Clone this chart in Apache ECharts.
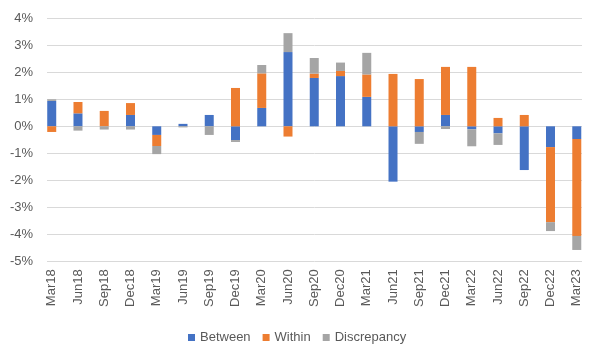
<!DOCTYPE html>
<html>
<head>
<meta charset="utf-8">
<script src="https://cdn.jsdelivr.net/npm/echarts@6/dist/echarts.min.js"></script>
<style>html,body{margin:0;padding:0;background:#fff}#c{width:599px;height:360px}</style>
</head>
<body>
<div id="c"></div>
<script>
var categories = ['Mar18','Jun18','Sep18','Dec18','Mar19','Jun19','Sep19','Dec19','Mar20','Jun20','Sep20','Dec20','Mar21','Jun21','Sep21','Dec21','Mar22','Jun22','Sep22','Dec22','Mar23'];
var between     = [0.94, 0.48, 0,    0.42, -0.32, 0.09, 0.42, -0.51, 0.68, 2.75, 1.79, 1.86, 1.09, -2.05, -0.21, 0.42, -0.11, -0.26, -1.62, -0.77, -0.47];
var within      = [-0.21, 0.42, 0.57, 0.44, -0.41, 0,   0,    1.42,  1.28, -0.38, 0.16, 0.19, 0.83, 1.94, 1.75, 1.78, 2.20, 0.31, 0.42, -2.78, -3.59];
var discrepancy = [0.06, -0.16, -0.12, -0.12, -0.30, -0.04, -0.32, -0.07, 0.31, 0.70, 0.58, 0.31, 0.80, 0, -0.44, -0.10, -0.63, -0.43, 0, -0.33, -0.52];
var yTicks = {min: -5, max: 4, interval: 1};

var font = 'Liberation Sans';
var txt = '#595959';
var chart = echarts.init(document.getElementById('c'));
chart.setOption({
  animation: false,
  textStyle: {fontFamily: font},
  grid: [
    {left: 47, right: 17, top: 18.3, bottom: 98.7},
    {left: 38.6, right: 9.1, top: 18.3, bottom: 98.7}
  ],
  legend: {
    data: ['Between', 'Within', 'Discrepancy'],
    left: 183, top: 326,
    icon: 'rect', itemWidth: 7, itemHeight: 7, itemGap: 12,
    textStyle: {color: txt, fontSize: 13, fontFamily: font}
  },
  xAxis: [
    {gridIndex: 0, type: 'value', min: 0, max: 1, show: false},
    {gridIndex: 1, type: 'category', data: categories,
     axisLine: {show: false}, axisTick: {show: false},
     axisLabel: {rotate: 90, interval: 0, margin: 8, color: txt, fontSize: 13, fontFamily: font}}
  ],
  yAxis: [
    {gridIndex: 0, type: 'value', min: yTicks.min, max: yTicks.max, interval: yTicks.interval,
     axisLine: {show: false}, axisTick: {show: false},
     axisLabel: {formatter: '{value}%', margin: 14, color: txt, fontSize: 13, fontFamily: font},
     splitLine: {lineStyle: {color: '#D9D9D9', width: 1}}},
    {gridIndex: 1, type: 'value', min: yTicks.min, max: yTicks.max, interval: yTicks.interval, show: false,
     splitLine: {show: false}}
  ],
  series: [
    {name: 'Between', type: 'bar', stack: 'a', xAxisIndex: 1, yAxisIndex: 1, data: between, barWidth: 9, itemStyle: {color: '#4472C4'}},
    {name: 'Within', type: 'bar', stack: 'a', xAxisIndex: 1, yAxisIndex: 1, data: within, barWidth: 9, itemStyle: {color: '#ED7D31'}},
    {name: 'Discrepancy', type: 'bar', stack: 'a', xAxisIndex: 1, yAxisIndex: 1, data: discrepancy, barWidth: 9, itemStyle: {color: '#A5A5A5'}}
  ]
});
</script>
</body>
</html>
